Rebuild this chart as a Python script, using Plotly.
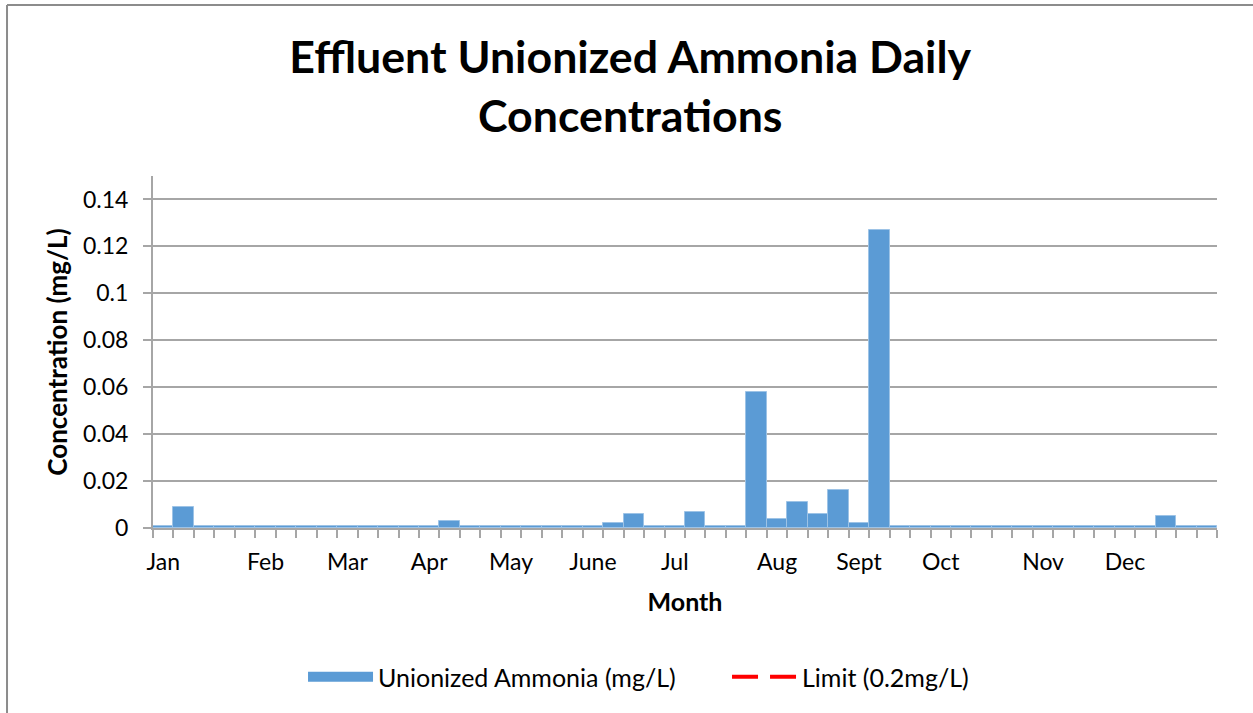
import plotly.graph_objects as go

# weekly samples, 52 categories on the x axis
weeks = list(range(52))
month_labels = ["Jan", "Feb", "Mar", "Apr", "May", "June", "Jul", "Aug", "Sept", "Oct", "Nov", "Dec"]
month_pos = [0, 5, 9, 13, 17, 21, 25, 30, 34, 38, 43, 47]

ammonia = [0.001] * 52
spikes = {1: 0.009, 14: 0.003, 22: 0.002, 23: 0.006, 26: 0.007, 29: 0.058,
          30: 0.004, 31: 0.011, 32: 0.006, 33: 0.016, 34: 0.002, 35: 0.127, 49: 0.005}
for k, v in spikes.items():
    ammonia[k] = v
limit = [0.2] * 52

FONT = "Lato"
GRID = "#a6a6a6"
BLUE = "#5b9bd5"

fig = go.Figure()
fig.add_trace(go.Bar(x=weeks, y=ammonia, width=1, name="Unionized Ammonia (mg/L)",
                     legendgroup="nh3", showlegend=False,
                     marker=dict(color=BLUE, line=dict(color="#9dc3e6", width=1))))
# legend entry drawn as a wide block like the spreadsheet legend
fig.add_trace(go.Scatter(x=[None], y=[None], mode="lines", name="Unionized Ammonia (mg/L)",
                         legendgroup="nh3", line=dict(color=BLUE, width=17)))
fig.add_trace(go.Scatter(x=weeks, y=limit, mode="lines", name="Limit (0.2mg/L)",
                         line=dict(color="#ff0000", width=4, dash="26px,12px")))

fig.update_layout(
    width=1253, height=713,
    margin=dict(l=153, r=36, t=176, b=185, autoexpand=False),
    paper_bgcolor="white", plot_bgcolor="white",
    font=dict(family=FONT, color="black", size=23),
    title=dict(text="<b>Effluent Unionized Ammonia Daily<br>Concentrations</b>",
               x=0.503, xanchor="center", y=0.897, yanchor="middle",
               font=dict(size=44.7, family=FONT)),
    bargap=0,
    showlegend=True,
    legend=dict(orientation="h", x=0.141, xanchor="left", y=-0.358, yanchor="top",
                font=dict(size=25), itemwidth=65, entrywidth=344, entrywidthmode="pixels"),
    xaxis=dict(range=[-0.5, 51.5], tickmode="array", tickvals=month_pos, ticktext=month_labels,
               ticks="outside", ticklen=12, tickcolor="rgba(0,0,0,0)",
               showgrid=False, zeroline=False, showline=True, linecolor=GRID, linewidth=2,
               tickfont=dict(size=23),
               minor=dict(tickmode="linear", tick0=-0.5, dtick=1, ticks="outside",
                          ticklen=8, tickcolor=GRID, tickwidth=2, showgrid=False),
               title=dict(text="<b>Month</b>", font=dict(size=25), standoff=20)),
    yaxis=dict(range=[0, 0.15], tick0=0, dtick=0.02, tickmode="linear",
               showgrid=True, gridcolor=GRID, gridwidth=2,
               zeroline=False, showline=True, linecolor=GRID, linewidth=2,
               ticks="outside", ticklen=8, tickcolor=GRID, tickwidth=2,
               ticklabelstandoff=10, tickfont=dict(size=23),
               title=dict(text="<b>Concentration (mg/L)</b>", font=dict(size=26), standoff=8)),
)

# chart border (left and top edges visible in the frame)
fig.add_shape(type="line", xref="paper", yref="paper", x0=-0.1372, x1=-0.1372, y0=1.486, y1=-0.6,
              line=dict(color="#8c8c8c", width=2))
fig.add_shape(type="line", xref="paper", yref="paper", x0=-0.1372, x1=1.1, y0=1.486, y1=1.486,
              line=dict(color="#8c8c8c", width=2))

fig.write_html("out.html", config={"displayModeBar": False},
               post_script="document.body.style.margin='0';")
